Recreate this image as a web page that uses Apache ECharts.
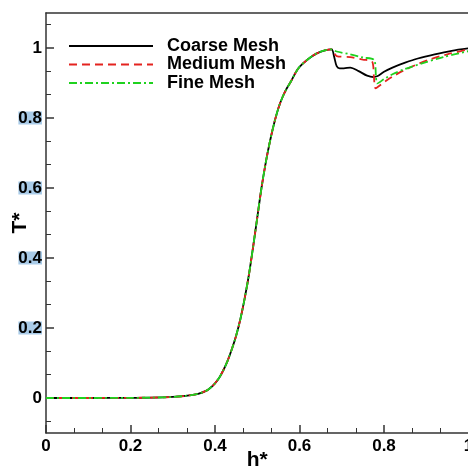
<!DOCTYPE html>
<html>
<head>
<meta charset="utf-8">
<script src="https://cdn.jsdelivr.net/npm/echarts@6/dist/echarts.min.js"></script>
<style>html,body{margin:0;padding:0;background:#fff;}#c{width:468px;height:469px;}</style>
</head>
<body>
<div id="c"></div>
<script>
// ---- data ----
var seriesNames = ['Coarse Mesh', 'Medium Mesh', 'Fine Mesh'];

var coarseX = [0, 0.1, 0.2, 0.25, 0.3, 0.33, 0.36, 0.38, 0.39, 0.40, 0.41, 0.42, 0.43, 0.44, 0.45, 0.46, 0.47, 0.48, 0.49, 0.50, 0.51, 0.52, 0.53, 0.54, 0.55, 0.56, 0.57, 0.58, 0.59, 0.60, 0.62, 0.64, 0.66, 0.676,
  0.682, 0.688, 0.695, 0.705, 0.72, 0.74, 0.76, 0.775, 0.785, 0.80, 0.82, 0.85, 0.88, 0.92, 0.96, 1.0];
var coarseY = [0, 0, 0.0005, 0.001, 0.003, 0.006, 0.012, 0.021, 0.03, 0.042, 0.058, 0.08, 0.107, 0.14, 0.178, 0.225, 0.283, 0.35, 0.43, 0.515, 0.60, 0.672, 0.733, 0.785, 0.828, 0.86, 0.885, 0.905, 0.928, 0.946, 0.968, 0.984, 0.993, 0.996,
  0.975, 0.948, 0.942, 0.942, 0.944, 0.934, 0.921, 0.917, 0.920, 0.932, 0.944, 0.958, 0.970, 0.982, 0.992, 0.999];

var mediumX = [0, 0.1, 0.2, 0.25, 0.3, 0.33, 0.36, 0.38, 0.39, 0.40, 0.41, 0.42, 0.43, 0.44, 0.45, 0.46, 0.47, 0.48, 0.49, 0.50, 0.51, 0.52, 0.53, 0.54, 0.55, 0.56, 0.57, 0.58, 0.59, 0.60, 0.62, 0.64, 0.66, 0.676,
  0.688, 0.72, 0.75, 0.772, 0.776, 0.78, 0.79, 0.80, 0.82, 0.85, 0.88, 0.91, 0.95, 1.0];
var mediumY = [0, 0, 0.0005, 0.001, 0.003, 0.006, 0.012, 0.021, 0.03, 0.042, 0.058, 0.08, 0.107, 0.14, 0.178, 0.225, 0.283, 0.35, 0.43, 0.515, 0.60, 0.672, 0.733, 0.785, 0.828, 0.86, 0.885, 0.905, 0.928, 0.946, 0.968, 0.984, 0.993, 0.996,
  0.977, 0.974, 0.967, 0.961, 0.92, 0.885, 0.893, 0.902, 0.918, 0.938, 0.954, 0.968, 0.982, 0.996];

var fineX = [0, 0.1, 0.2, 0.25, 0.3, 0.33, 0.36, 0.38, 0.39, 0.40, 0.41, 0.42, 0.43, 0.44, 0.45, 0.46, 0.47, 0.48, 0.49, 0.50, 0.51, 0.52, 0.53, 0.54, 0.55, 0.56, 0.57, 0.58, 0.59, 0.60, 0.62, 0.64, 0.66, 0.676,
  0.688, 0.72, 0.75, 0.777, 0.781, 0.784, 0.80, 0.82, 0.85, 0.89, 0.94, 1.0];
var fineY = [0, 0, 0.0005, 0.001, 0.003, 0.006, 0.012, 0.021, 0.03, 0.042, 0.058, 0.08, 0.107, 0.14, 0.178, 0.225, 0.283, 0.35, 0.43, 0.515, 0.60, 0.672, 0.733, 0.785, 0.828, 0.86, 0.885, 0.905, 0.928, 0.946, 0.968, 0.984, 0.993, 0.996,
  0.990, 0.982, 0.973, 0.965, 0.92, 0.899, 0.911, 0.925, 0.940, 0.956, 0.974, 0.991];

var yMajorTicks = [0, 0.2, 0.4, 0.6, 0.8, 1];
var yMinorTicks = [-0.0667, 0.0667, 0.1333, 0.2667, 0.3333, 0.4667, 0.5333, 0.6667, 0.7333, 0.8667, 0.9333, 1.0667];
var highlightedLabels = ['0.2', '0.4', '0.6', '0.8'];

function pairs(xs, ys) { return xs.map(function (x, i) { return [x, ys[i]]; }); }

var chart = echarts.init(document.getElementById('c'), null, { renderer: 'canvas' });
var FONT = '"Liberation Sans", Arial, Helvetica, sans-serif';
var axisCol = '#333';

var option = {
  animation: false,
  backgroundColor: '#fff',
  grid: { left: 46, top: 13, width: 422.5, height: 420, containLabel: false, outerBoundsMode: 'none' },
  legend: {
    left: 68, top: 37, orient: 'vertical', padding: 0,
    itemWidth: 84, itemHeight: 14, itemGap: 0.5,
    data: seriesNames,
    itemStyle: { opacity: 0 },
    textStyle: { fontFamily: FONT, fontWeight: 'bold', fontSize: 18, color: '#000', padding: [0, 0, 0, 9], lineHeight: 18 }
  },
  xAxis: [{
    type: 'value', min: 0, max: 1, interval: 0.2,
    name: 'h*', nameLocation: 'middle', nameGap: 17, nameMoveOverlap: false,
    nameTextStyle: { fontFamily: FONT, fontWeight: 'bold', fontSize: 21, color: '#000', verticalAlign: 'top' },
    axisLine: { show: true, onZero: false, lineStyle: { color: axisCol, width: 1.5 } },
    axisTick: { show: true, inside: true, length: 8, lineStyle: { color: axisCol, width: 1.5 } },
    minorTick: { show: true, splitNumber: 3, length: 5, lineStyle: { color: axisCol, width: 1 } },
    axisLabel: { fontFamily: FONT, fontWeight: 'bold', fontSize: 17, color: '#000', margin: 5,
      formatter: function (v) { return String(Number(v.toFixed(1))); } },
    splitLine: { show: false }
  }, {
    type: 'value', min: 0, max: 1, position: 'top',
    axisLine: { show: true, onZero: false, lineStyle: { color: axisCol, width: 1.5 } },
    axisTick: { show: false }, axisLabel: { show: false }, splitLine: { show: false }
  }],
  yAxis: [{
    type: 'value', min: -0.1, max: 1.1,
    name: 'T*', nameLocation: 'middle', nameGap: 15, nameMoveOverlap: false,
    nameTextStyle: { fontFamily: FONT, fontWeight: 'bold', fontSize: 21, color: '#000' },
    axisLine: { show: true, onZero: false, lineStyle: { color: axisCol, width: 1.5 } },
    axisTick: { show: true, inside: true, length: 8, customValues: yMajorTicks, lineStyle: { color: axisCol, width: 1.5 } },
    axisLabel: {
      customValues: yMajorTicks, margin: 4,
      formatter: function (v) {
        var s = String(Number(v.toFixed(1)));
        return highlightedLabels.indexOf(s) >= 0 ? '{hl|' + s + '}' : '{n|' + s + '}';
      },
      rich: {
        hl: { fontFamily: FONT, fontWeight: 'bold', fontSize: 17, color: '#000', backgroundColor: '#a9cbe8', lineHeight: 13, height: 13 },
        n: { fontFamily: FONT, fontWeight: 'bold', fontSize: 17, color: '#000', lineHeight: 13 }
      }
    },
    splitLine: { show: false }
  }, {
    type: 'value', min: -0.1, max: 1.1, position: 'left',
    axisLine: { show: false },
    axisTick: { show: true, inside: true, length: 5, customValues: yMinorTicks, lineStyle: { color: axisCol, width: 1 } },
    axisLabel: { show: false }, splitLine: { show: false }
  }, {
    type: 'value', min: -0.1, max: 1.1, position: 'right',
    axisLine: { show: true, onZero: false, lineStyle: { color: axisCol, width: 1.5 } },
    axisTick: { show: false }, axisLabel: { show: false }, splitLine: { show: false }
  }],
  series: [{
    name: seriesNames[0], type: 'line', data: pairs(coarseX, coarseY),
    showSymbol: false, symbol: 'none', smooth: 0.3, z: 3,
    lineStyle: { color: '#000', width: 1.8, type: 'solid' }, itemStyle: { color: '#000' }
  }, {
    name: seriesNames[1], type: 'line', data: pairs(mediumX, mediumY),
    showSymbol: false, symbol: 'none', smooth: 0.3, z: 4,
    lineStyle: { color: '#e4231f', width: 1.8, type: [8, 5] }, itemStyle: { color: '#e4231f' }
  }, {
    name: seriesNames[2], type: 'line', data: pairs(fineX, fineY),
    showSymbol: false, symbol: 'none', smooth: 0.3, z: 5,
    lineStyle: { color: '#1fd21f', width: 1.8, type: [8, 3, 2, 3] }, itemStyle: { color: '#1fd21f' }
  }]
};
chart.setOption(option);
</script>
</body>
</html>
